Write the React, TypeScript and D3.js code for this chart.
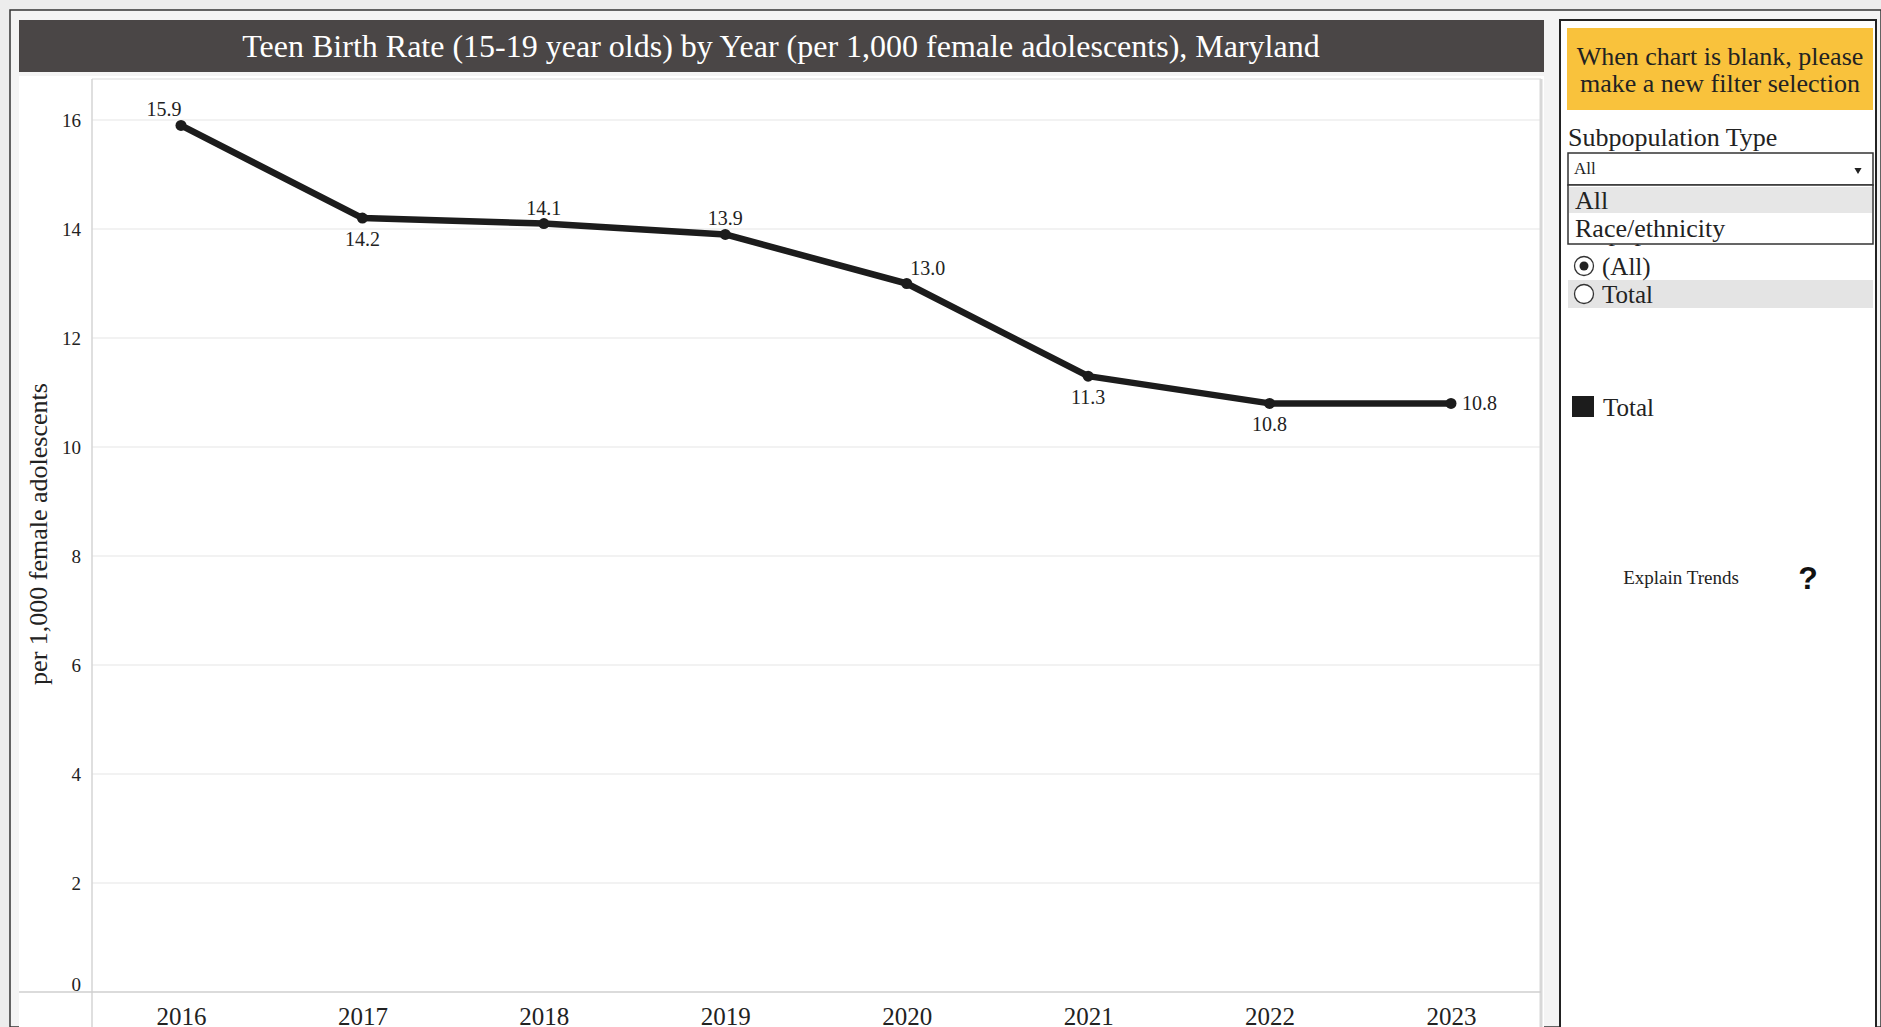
import React, { useRef, useEffect } from "react";
import * as d3 from "d3";

const years = [2016, 2017, 2018, 2019, 2020, 2021, 2022, 2023];
const rates = [15.9, 14.2, 14.1, 13.9, 13.0, 11.3, 10.8, 10.8];
// where Tableau put each mark label relative to its point
const labelPos = ["above-left", "below", "above", "above", "above-right", "below", "below", "right"];
const yTicks = [0, 2, 4, 6, 8, 10, 12, 14, 16];
const title = "Teen Birth Rate (15-19 year olds) by Year (per 1,000 female adolescents), Maryland";
const yTitle = "per 1,000 female adolescents";
const dropdownOptions = ["All", "Race/ethnicity"];
const radioOptions = ["(All)", "Total"];
const legendItems = ["Total"];

const App = () => {
  const ref = useRef<SVGSVGElement>(null);

  useEffect(() => {
    const width = 1881;
    const height = 1027;
    const serif = "'Liberation Serif', 'Times New Roman', serif";

    const svg = d3.select(ref.current);
    svg.selectAll("*").remove();

    // background and outer frame
    svg.append("rect").attr("width", width).attr("height", height).attr("fill", "#ededed");
    svg.append("rect")
      .attr("x", 10).attr("y", 10).attr("width", width - 10).attr("height", height - 10)
      .attr("fill", "#f4f4f4").attr("stroke", "#333").attr("stroke-width", 1.5);

    // chart panel
    const panelLeft = 19;
    const panelRight = 1544;
    svg.append("rect")
      .attr("x", panelLeft).attr("y", 76).attr("width", panelRight - panelLeft).attr("height", height - 76)
      .attr("fill", "#fff");

    // title bar
    svg.append("rect")
      .attr("x", panelLeft).attr("y", 20).attr("width", panelRight - panelLeft).attr("height", 52)
      .attr("fill", "#4a4646");
    svg.append("text")
      .attr("x", 781).attr("y", 57)
      .attr("text-anchor", "middle")
      .attr("font-family", serif).attr("font-size", 32)
      .attr("fill", "#fff")
      .text(title);

    const marginLeft = 92;
    const plotTop = 79;
    const plotBottom = 992;

    // scales
    const x = d3.scaleLinear()
      .domain([years[0], years[years.length - 1]])
      .range([181, 1451]);
    const y = d3.scaleLinear()
      .domain([0, 16])
      .range([plotBottom, 120]);

    // gridlines
    svg.append("g")
      .selectAll("line")
      .data(yTicks.filter((d) => d > 0))
      .enter()
      .append("line")
      .attr("x1", marginLeft).attr("x2", panelRight - 3)
      .attr("y1", (d) => y(d)).attr("y2", (d) => y(d))
      .attr("stroke", "#eeeeee").attr("stroke-width", 1.5);

    // plot frame lines
    svg.append("line")
      .attr("x1", marginLeft).attr("x2", panelRight - 3)
      .attr("y1", plotTop).attr("y2", plotTop)
      .attr("stroke", "#e6e6e6").attr("stroke-width", 1.5);
    svg.append("line")
      .attr("x1", panelRight - 3).attr("x2", panelRight - 3)
      .attr("y1", plotTop).attr("y2", height)
      .attr("stroke", "#d8d8d8").attr("stroke-width", 3);
    svg.append("line")
      .attr("x1", marginLeft).attr("x2", marginLeft)
      .attr("y1", plotTop).attr("y2", height)
      .attr("stroke", "#d4d4d4").attr("stroke-width", 1.5);
    svg.append("line")
      .attr("x1", panelLeft).attr("x2", panelRight - 3)
      .attr("y1", plotBottom).attr("y2", plotBottom)
      .attr("stroke", "#cfcfcf").attr("stroke-width", 1.5);

    // y-axis
    const yAxis = svg.append("g")
      .attr("transform", `translate(${marginLeft},0)`)
      .call(d3.axisLeft(y).tickValues(yTicks).tickFormat(d3.format("d")).tickSize(0).tickPadding(11));
    yAxis.select(".domain").remove();
    yAxis.selectAll("text")
      .attr("font-family", serif).attr("font-size", 19).attr("fill", "#222");
    yAxis.selectAll(".tick")
      .filter((d) => d === 0)
      .select("text").attr("dy", "-0.1em");

    // x-axis
    const xAxis = svg.append("g")
      .attr("transform", `translate(0,${plotBottom})`)
      .call(d3.axisBottom(x).tickValues(years).tickFormat(d3.format("d")).tickSize(0).tickPadding(15));
    xAxis.select(".domain").remove();
    xAxis.selectAll("text")
      .attr("font-family", serif).attr("font-size", 25).attr("fill", "#222");

    // y-axis title
    svg.append("text")
      .attr("transform", `translate(47,${534}) rotate(-90)`)
      .attr("text-anchor", "middle")
      .attr("font-family", serif).attr("font-size", 26).attr("fill", "#222")
      .text(yTitle);

    // line
    const data = years.map((yr, i) => ({ year: yr, value: rates[i], pos: labelPos[i] }));
    const line = d3.line<{ year: number; value: number }>()
      .x((d) => x(d.year))
      .y((d) => y(d.value));
    svg.append("path")
      .attr("fill", "none")
      .attr("stroke", "#1c1c1c")
      .attr("stroke-width", 6.5)
      .attr("stroke-linejoin", "round")
      .attr("d", line(data));

    svg.selectAll()
      .data(data)
      .enter()
      .append("circle")
      .attr("cx", (d) => x(d.year))
      .attr("cy", (d) => y(d.value))
      .attr("r", 5.5)
      .attr("fill", "#1c1c1c");

    // mark labels
    svg.selectAll()
      .data(data)
      .enter()
      .append("text")
      .attr("x", (d) => {
        if (d.pos === "right") return x(d.year) + 11;
        if (d.pos === "above-right") return x(d.year) + 21;
        if (d.pos === "above-left") return x(d.year) - 17;
        return x(d.year);
      })
      .attr("y", (d) => {
        if (d.pos === "below") return y(d.value) + 28;
        if (d.pos === "right") return y(d.value) + 7;
        return y(d.value) - 9;
      })
      .attr("text-anchor", (d) => (d.pos === "right" ? "start" : "middle"))
      .attr("font-family", serif).attr("font-size", 20).attr("fill", "#222")
      .text((d) => d.value.toFixed(1));

    // right-hand panel
    const side = 1560;
    svg.append("rect")
      .attr("x", side).attr("y", 20).attr("width", width - side - 5).attr("height", height - 18)
      .attr("fill", "#fff").attr("stroke", "#222").attr("stroke-width", 2);

    svg.append("rect")
      .attr("x", side + 7).attr("y", 28).attr("width", 306).attr("height", 82)
      .attr("fill", "#f9c23c");
    svg.append("text")
      .attr("x", side + 160).attr("y", 0)
      .attr("text-anchor", "middle")
      .attr("font-family", serif).attr("font-size", 26).attr("fill", "#222")
      .selectAll("tspan")
      .data(["When chart is blank, please", "make a new filter selection"])
      .enter()
      .append("tspan")
      .attr("x", side + 160)
      .attr("y", (d, i) => 65 + i * 27)
      .text((d) => d);

    svg.append("text")
      .attr("x", side + 8).attr("y", 146)
      .attr("font-family", serif).attr("font-size", 26).attr("fill", "#222")
      .text("Subpopulation Type");

    // partly hidden filter title behind the open dropdown
    svg.append("text")
      .attr("x", side + 8).attr("y", 241)
      .attr("font-family", serif).attr("font-size", 26).attr("fill", "#222")
      .text("Subpopulation");

    // radio filter
    const radio = svg.append("g");
    radio.append("rect")
      .attr("x", side + 8).attr("y", 280).attr("width", 305).attr("height", 28)
      .attr("fill", "#e4e4e4");
    radio.selectAll("g")
      .data(radioOptions)
      .enter()
      .append("g")
      .attr("transform", (d, i) => `translate(${side + 24},${266 + i * 28})`)
      .each(function (d, i) {
        const g = d3.select(this);
        g.append("circle").attr("r", 9.5).attr("fill", "#fff").attr("stroke", "#333").attr("stroke-width", 1.3);
        if (i === 0) g.append("circle").attr("r", 4.5).attr("fill", "#222");
        g.append("text")
          .attr("x", 18).attr("y", 9)
          .attr("font-family", serif).attr("font-size", 25).attr("fill", "#222")
          .text(d);
      });

    // dropdown
    svg.append("rect")
      .attr("x", side + 8).attr("y", 153).attr("width", 305).attr("height", 32)
      .attr("fill", "#fff").attr("stroke", "#333").attr("stroke-width", 1.5);
    svg.append("text")
      .attr("x", side + 14).attr("y", 174)
      .attr("font-family", serif).attr("font-size", 17).attr("fill", "#222")
      .text(dropdownOptions[0]);
    svg.append("path")
      .attr("d", d3.symbol(d3.symbolTriangle, 22))
      .attr("transform", `translate(${side + 298},170) rotate(180)`)
      .attr("fill", "#222");

    const list = svg.append("g");
    list.append("rect")
      .attr("x", side + 8).attr("y", 185).attr("width", 305).attr("height", 59)
      .attr("fill", "#fff").attr("stroke", "#333").attr("stroke-width", 1.5);
    list.append("rect")
      .attr("x", side + 9).attr("y", 187).attr("width", 303).attr("height", 26)
      .attr("fill", "#e6e6e6");
    list.selectAll("text")
      .data(dropdownOptions)
      .enter()
      .append("text")
      .attr("x", side + 15)
      .attr("y", (d, i) => 209 + i * 28)
      .attr("font-family", serif).attr("font-size", 26).attr("fill", "#222")
      .text((d) => d);

    // legend
    svg.selectAll()
      .data(legendItems)
      .enter()
      .append("g")
      .attr("transform", (d, i) => `translate(${side + 12},${396 + i * 28})`)
      .each(function (d) {
        const g = d3.select(this);
        g.append("rect").attr("width", 22).attr("height", 21).attr("fill", "#1c1c1c");
        g.append("text")
          .attr("x", 31).attr("y", 20)
          .attr("font-family", serif).attr("font-size", 25).attr("fill", "#222")
          .text(d);
      });

    svg.append("text")
      .attr("x", 1681).attr("y", 584)
      .attr("text-anchor", "middle")
      .attr("font-family", serif).attr("font-size", 19).attr("fill", "#222")
      .text("Explain Trends");
    svg.append("text")
      .attr("x", 1808).attr("y", 589)
      .attr("text-anchor", "middle")
      .attr("font-family", "'Liberation Sans', Arial, sans-serif").attr("font-size", 32)
      .attr("font-weight", "bold").attr("fill", "#111")
      .text("?");
  }, []);

  return (
    <svg
      ref={ref}
      width={1881}
      height={1027}
      style={{ position: "absolute", left: 0, top: 0, display: "block" }}
    />
  );
};

export default App;
